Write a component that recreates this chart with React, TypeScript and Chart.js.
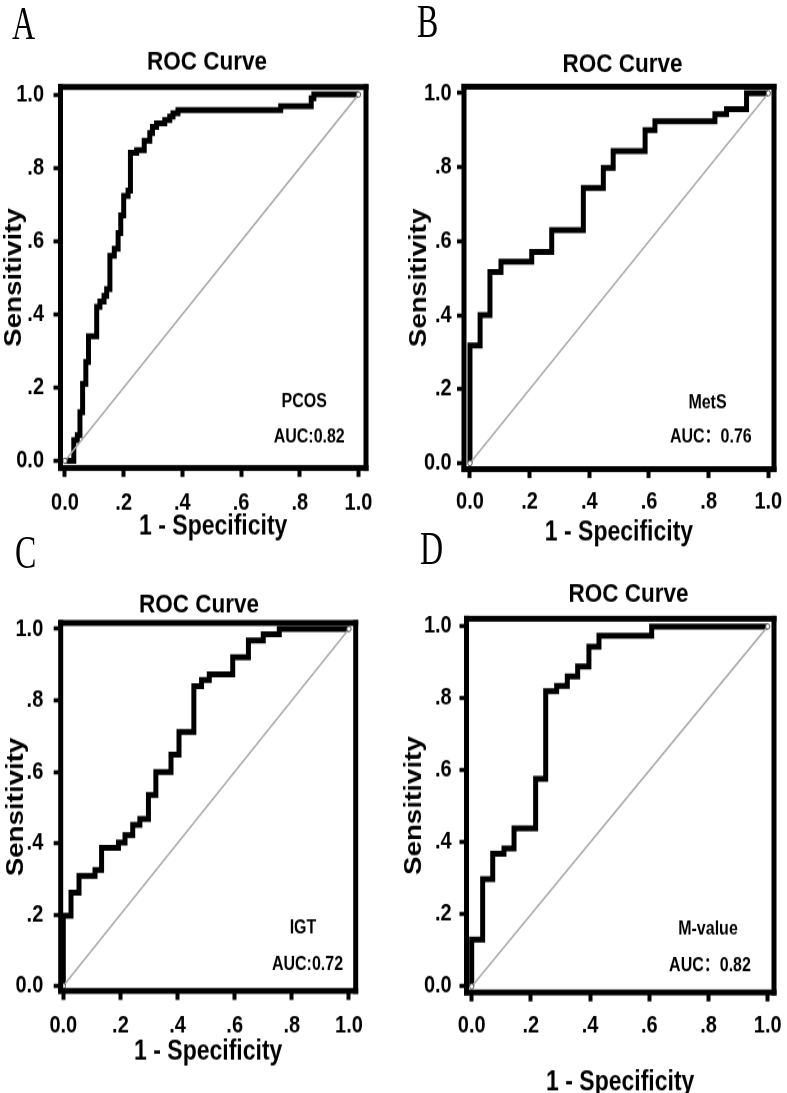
import React, { useEffect, useRef } from 'react';
import { Chart, registerables } from 'chart.js';

Chart.register(...registerables);

// ---------------- data ----------------
const tickValues = [0, 0.2, 0.4, 0.6, 0.8, 1.0];
const tickLabels = ['0.0', '.2', '.4', '.6', '.8', '1.0'];
const chartTitle = 'ROC Curve';
const xAxisTitle = '1 - Specificity';
const yAxisTitle = 'Sensitivity';
const panelLetters = ['A', 'B', 'C', 'D'];
const markerNames = ['PCOS', 'MetS', 'IGT', 'M-value'];
const aucLabels = ['AUC:0.82', 'AUC：0.76', 'AUC:0.72', 'AUC：0.82'];
const refLineX = [0, 1];
const refLineY = [0, 1];

const pcosFpr = [0, 0.03, 0.042, 0.051, 0.06, 0.071, 0.08, 0.108, 0.119, 0.133, 0.142, 0.153, 0.168, 0.181, 0.19, 0.2, 0.215, 0.223, 0.244, 0.27, 0.289, 0.298, 0.312, 0.34, 0.357, 0.368, 0.385, 0.735, 0.839, 0.848, 1.0];
const pcosTpr = [0, 0.056, 0.07, 0.133, 0.21, 0.27, 0.34, 0.42, 0.435, 0.45, 0.469, 0.56, 0.579, 0.622, 0.67, 0.723, 0.738, 0.841, 0.848, 0.874, 0.895, 0.912, 0.921, 0.93, 0.94, 0.949, 0.958, 0.968, 0.99, 1.0, 1.0];

const metsFpr = [0, 0, 0.034, 0.067, 0.104, 0.207, 0.274, 0.38, 0.447, 0.48, 0.587, 0.62, 0.821, 0.86, 0.927, 1.0];
const metsTpr = [0, 0.318, 0.4, 0.517, 0.545, 0.571, 0.63, 0.744, 0.798, 0.844, 0.9, 0.924, 0.943, 0.957, 1.0, 1.0];

const igtFpr = [0, 0, 0.027, 0.055, 0.111, 0.134, 0.193, 0.216, 0.243, 0.268, 0.298, 0.324, 0.377, 0.405, 0.457, 0.484, 0.511, 0.593, 0.648, 0.7, 0.756, 1.0];
const igtTpr = [0, 0.197, 0.261, 0.308, 0.325, 0.387, 0.402, 0.422, 0.451, 0.468, 0.535, 0.599, 0.648, 0.712, 0.84, 0.857, 0.873, 0.921, 0.968, 0.985, 1.0, 1.0];

const mvalueFpr = [0, 0, 0.037, 0.071, 0.109, 0.143, 0.216, 0.25, 0.287, 0.323, 0.358, 0.396, 0.43, 0.608, 1.0];
const mvalueTpr = [0, 0.13, 0.298, 0.369, 0.383, 0.439, 0.577, 0.82, 0.835, 0.861, 0.889, 0.944, 0.974, 1.0, 1.0];

const fprSeries = [pcosFpr, metsFpr, igtFpr, mvalueFpr];
const tprSeries = [pcosTpr, metsTpr, igtTpr, mvalueTpr];

// ---------------- layout (page pixels) ----------------
const S = 1.18; // vertical stretch of the whole figure
const FONT = "'Liberation Sans', Arial, Helvetica, 'Noto Sans CJK SC', sans-serif";
const TICK_SIZE = 20;
const TICK_LH = TICK_SIZE * 1.2;
const TITLE_SIZE = 22.5;
const TITLE_LH = TITLE_SIZE * 1.2;
const XT_SIZE = 23;
const XT_LH = XT_SIZE * 1.2;
const YT_SIZE = 23.5;
const YT_LH = YT_SIZE * 1.2;
const NOTE_SIZE = 16;
const LETTER_SIZE = 40;
const TLX = 7.6;
const TLY = 7;

const layouts = [
  { left: 0, topPage: 0, titleX: 207, titleY: 62.3, frame: [60.5, 366, 87, 468], xRange: [-0.0153, 1.0256], yRange: [-0.0199, 1.0205], yLabelRight: 44, xLabelY: 503.3, xTitleY: 526.7, yTitleX: 14.2, name: [304.2, 401.7], auc: [309.2, 437.5], letter: [12, 40] },
  { left: 395, topPage: 0, titleX: 622.5, titleY: 64.9, frame: [464, 774, 86.7, 469.1], xRange: [-0.02, 1.019], yRange: [-0.016, 1.0176], yLabelRight: 451.7, xLabelY: 502.6, xTitleY: 532.5, yTitleX: 419.2, name: [707.5, 402.5], auc: [710.8, 437.5], letter: [416.7, 37.7] },
  { left: 0, topPage: 540, titleX: 199, titleY: 604.9, frame: [60.7, 355.7, 622.5, 990.5], xRange: [-0.0091, 1.0235], yRange: [-0.014, 1.0168], yLabelRight: 43.3, xLabelY: 1025, xTitleY: 1052, yTitleX: 16.7, name: [303, 927.5], auc: [307.5, 964], letter: [15, 568] },
  { left: 395, topPage: 540, titleX: 628.5, titleY: 594, frame: [466.5, 774, 618.3, 992], xRange: [-0.0176, 1.0213], yRange: [-0.0167, 1.0214], yLabelRight: 451.7, xLabelY: 1025, xTitleY: 1082, yTitleX: 414.2, name: [708, 929], auc: [710, 965], letter: [420, 565] },
];

function geom(L: any) {
  const top = L.topPage / S;
  const cw = Math.round(2 * (L.titleX - L.left));
  const [fl, fr, ftP, fbP] = L.frame;
  const ft = ftP / S;
  const fb = fbP / S;
  const titleY = L.titleY / S;
  const tp = titleY - top - TITLE_LH / 2;
  const tb = ft - titleY - TITLE_LH / 2;
  const xTitleY = L.xTitleY / S;
  const ch = Math.ceil(xTitleY + XT_LH / 2 + 3 - top);
  const bottom = top + ch;
  const pb = bottom - xTitleY - XT_LH / 2;
  const H = bottom - fb;
  const xPad = L.xLabelY / S - fb - TLX - TICK_LH / 2;
  const Wy = fl - L.left;
  const Wr = L.left + cw - fr;
  const yPad = fl - TLY - L.yLabelRight;
  const yTitlePad = L.yTitleX - L.left - YT_LH / 2;
  return { top, cw, ch, tp, tb, pb, H, xPad, Wy, Wr, yPad, yTitlePad };
}

function RocPanel({ index }: { index: number }) {
  const L = layouts[index];
  const g = geom(L);
  const ref = useRef<HTMLCanvasElement>(null);

  useEffect(() => {
    const fpr = fprSeries[index];
    const tpr = tprSeries[index];
    const pts = fpr.map((x, i) => ({ x, y: tpr[i] }));
    const diag = refLineX.map((x, i) => ({ x, y: refLineY[i] }));

    const framePlugin = {
      id: 'frame' + index,
      afterDatasetsDraw(chart: any) {
        const { left, right, top, bottom } = chart.chartArea;
        const ctx = chart.ctx;
        const h = 2.5;
        ctx.save();
        ctx.fillStyle = '#000';
        ctx.fillRect(left - h, top - h, right - left + 2 * h, 2 * h);
        ctx.fillRect(left - h, bottom - h, right - left + 2 * h, 2 * h);
        ctx.fillRect(left - h, top - h, 2 * h, bottom - top + 2 * h);
        ctx.fillRect(right - h, top - h, 2 * h, bottom - top + 2 * h);
        ctx.restore();
      },
    };

    const notePlugin = {
      id: 'notes' + index,
      afterDraw(chart: any) {
        const ctx = chart.ctx;
        ctx.save();
        ctx.fillStyle = '#000';
        ctx.font = `bold ${NOTE_SIZE}px ${FONT}`;
        ctx.textAlign = 'center';
        ctx.textBaseline = 'middle';
        ctx.fillText(markerNames[index], L.name[0] - L.left, L.name[1] / S - g.top);
        ctx.fillText(aucLabels[index], L.auc[0] - L.left, L.auc[1] / S - g.top);
        ctx.restore();
      },
    };

    const chart = new Chart(ref.current as HTMLCanvasElement, {
      type: 'line',
      data: {
        datasets: [
          {
            data: diag,
            borderColor: '#a9a9a9',
            borderWidth: 1.6,
            pointRadius: 2.2,
            pointBackgroundColor: '#ffffff',
            pointBorderColor: '#555555',
            pointBorderWidth: 1,
            fill: false,
            tension: 0,
          },
          {
            data: pts,
            borderColor: '#000000',
            borderWidth: 5,
            pointRadius: 0,
            stepped: 'before',
            borderJoinStyle: 'miter',
            borderCapStyle: 'butt',
            fill: false,
          },
        ],
      } as any,
      options: {
        responsive: false,
        animation: false,
        devicePixelRatio: 1,
        events: [],
        layout: { padding: 0 },
        plugins: {
          legend: { display: false },
          tooltip: { enabled: false },
          title: {
            display: true,
            text: chartTitle,
            color: '#000',
            fullSize: true,
            font: { family: FONT, size: TITLE_SIZE, weight: 'bold', lineHeight: 1.2 },
            padding: { top: g.tp, bottom: g.tb },
          },
        },
        scales: {
          x: {
            type: 'linear',
            position: 'bottom',
            min: L.xRange[0],
            max: L.xRange[1],
            afterBuildTicks: (s: any) => { s.ticks = tickValues.map((v) => ({ value: v })); },
            afterFit: (s: any) => { s.height = g.H; },
            grid: { display: true, drawOnChartArea: false, drawTicks: true, tickLength: TLX, tickWidth: 4, tickColor: '#000' },
            border: { display: false },
            ticks: {
              color: '#000',
              padding: g.xPad,
              autoSkip: false,
              maxRotation: 0,
              font: { family: FONT, size: TICK_SIZE, weight: 'bold', lineHeight: 1.2 },
              callback: (_v: any, i: number) => tickLabels[i],
            },
            title: {
              display: true,
              text: xAxisTitle,
              color: '#000',
              font: { family: FONT, size: XT_SIZE, weight: 'bold', lineHeight: 1.2 },
              padding: { top: 0, bottom: g.pb },
            },
          },
          y: {
            type: 'linear',
            position: 'left',
            min: L.yRange[0],
            max: L.yRange[1],
            afterBuildTicks: (s: any) => { s.ticks = tickValues.map((v) => ({ value: v })); },
            afterFit: (s: any) => { s.width = g.Wy; },
            grid: { display: true, drawOnChartArea: false, drawTicks: true, tickLength: TLY, tickWidth: 3.6, tickColor: '#000' },
            border: { display: false },
            ticks: {
              color: '#000',
              padding: g.yPad,
              autoSkip: false,
              font: { family: FONT, size: TICK_SIZE, weight: 'bold', lineHeight: 1.2 },
              callback: (_v: any, i: number) => tickLabels[i],
            },
            title: {
              display: true,
              text: yAxisTitle,
              color: '#000',
              font: { family: FONT, size: YT_SIZE, weight: 'bold', lineHeight: 1.2 },
              padding: { top: g.yTitlePad, bottom: 0 },
            },
          },
          y2: {
            type: 'linear',
            position: 'right',
            display: true,
            afterFit: (s: any) => { s.width = g.Wr; },
            grid: { display: false },
            border: { display: false },
            ticks: { display: false },
            title: { display: false },
          },
        },
      } as any,
      plugins: [framePlugin, notePlugin],
    });
    return () => chart.destroy();
  }, [index]);

  return (
    <div style={{ position: 'absolute', left: L.left, top: g.top, width: g.cw, height: g.ch }}>
      <canvas ref={ref} width={g.cw} height={g.ch} style={{ display: 'block', width: g.cw, height: g.ch }} />
    </div>
  );
}

function Letter({ index }: { index: number }) {
  const L = layouts[index];
  return (
    <div
      style={{
        position: 'absolute',
        left: L.letter[0],
        top: L.letter[1] / S - 0.8375 * LETTER_SIZE,
        fontFamily: "'Liberation Serif', 'DejaVu Serif', serif",
        fontSize: LETTER_SIZE,
        lineHeight: `${LETTER_SIZE}px`,
        transform: 'scaleX(0.8)',
        transformOrigin: '0 0',
        color: '#000',
        whiteSpace: 'nowrap',
      }}
    >
      {panelLetters[index]}
    </div>
  );
}

export default function App() {
  return (
    <div style={{ position: 'absolute', left: 0, top: 0, width: 787, height: 1093, overflow: 'hidden', background: '#fff' }}>
      <div style={{ position: 'absolute', left: 0, top: 0, width: 787, height: 1093 / S, transform: `scaleY(${S})`, transformOrigin: '0 0' }}>
        {[0, 1, 2, 3].map((i) => <RocPanel key={'p' + i} index={i} />)}
        {[0, 1, 2, 3].map((i) => <Letter key={'l' + i} index={i} />)}
      </div>
    </div>
  );
}
